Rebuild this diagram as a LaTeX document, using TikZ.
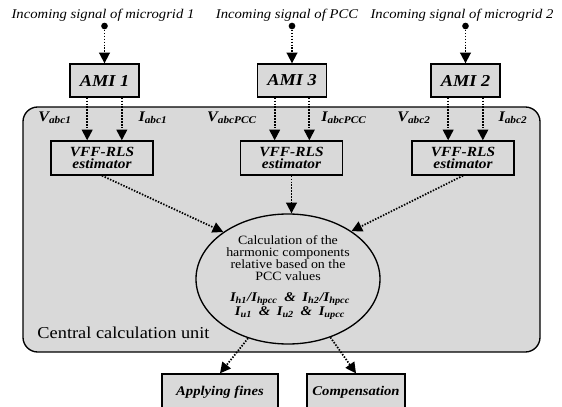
\documentclass[tikz,border=0pt]{standalone}
\usepackage{fontspec}
\setmainfont{Liberation Serif}[FakeStretch=1.1]
\usetikzlibrary{arrows.meta,shapes.geometric}

\definecolor{panelgray}{RGB}{217,217,217}
\newcommand{\qsub}[2]{#1\textsubscript{#2}}

\tikzset{every picture/.style={line width=0.75pt}}
\tikzset{
	amibox/.style={draw, fill=panelgray, line width=1pt, minimum width=51.75pt, minimum height=24.75pt, inner sep=0pt, font=\fontsize{12.5}{12}\selectfont\bfseries\itshape},
	estbox/.style={draw, fill=panelgray, line width=1pt, minimum width=76.5pt, minimum height=25.5pt, inner sep=0pt, align=center, font=\fontsize{10.5}{9.5}\selectfont\bfseries\itshape},
	outbox/.style={draw, fill=panelgray, line width=1pt, minimum height=27pt, inner sep=0pt, font=\fontsize{10}{10}\selectfont\bfseries\itshape},
	tapdot/.style={circle, fill, inner sep=0pt, minimum size=5pt},
	sigflow/.style={line width=1.3pt, dash pattern=on 1.1pt off 1.1pt, -{Triangle[length=8pt,width=8pt]}},
	meas/.style={inner sep=0pt, font=\fontsize{11}{11}\selectfont\bfseries\itshape},
	intext/.style={inner sep=0pt, font=\fontsize{10}{10}\selectfont\itshape},
}

\begin{document}
\begin{tikzpicture}[x=0.75pt,y=0.75pt,yscale=-1,xscale=1]
	\useasboundingbox (0,0) rectangle (562,407);
	\clip (0,0) rectangle (562,407);
	
	%Shape: Rounded Rect [id:unit]
	\draw [fill=panelgray, line width=1pt, rounded corners=11pt] (23,107) rectangle (540,352);
	\draw (37,333) node [anchor=west][inner sep=0pt][font=\fontsize{12.5}{12}\selectfont] (unitlabel) {Central calculation unit};
	
	%incoming signals
	\draw (103,15) node [intext] (in1) {Incoming signal of microgrid 1};
	\draw (287,15) node [intext] (inpcc) {Incoming signal of PCC};
	\draw (462,15) node [intext] (in2) {Incoming signal of microgrid 2};
	\node [tapdot] (tap1) at (104.5,26) {};
	\node [tapdot] (tappcc) at (292,26) {};
	\node [tapdot] (tap2) at (465.5,26) {};
	
	%AMI units
	\node [amibox] (ami1) at (104.5,80.5) {AMI 1};
	\node [amibox] (ami3) at (292,80.5) {AMI 3};
	\node [amibox] (ami2) at (465.5,80.5) {AMI 2};
	\draw [sigflow] (tap1) -- (ami1);
	\draw [sigflow] (tappcc) -- (ami3);
	\draw [sigflow] (tap2) -- (ami2);
	
	%estimators
	\node [estbox] (est1) at (102,158) {VFF-RLS\\estimator};
	\node [estbox] (estpcc) at (291.5,158) {VFF-RLS\\estimator};
	\node [estbox] (est2) at (463,158) {VFF-RLS\\estimator};
	\draw [sigflow] ([xshift=-13pt]ami1.south) -- ([xshift=-13pt]ami1.south |- est1.north);
	\draw [sigflow] ([xshift=13pt]ami1.south) -- ([xshift=13pt]ami1.south |- est1.north);
	\draw [sigflow] ([xshift=-13pt]ami3.south) -- ([xshift=-13pt]ami3.south |- estpcc.north);
	\draw [sigflow] ([xshift=13pt]ami3.south) -- ([xshift=13pt]ami3.south |- estpcc.north);
	\draw [sigflow] ([xshift=-13pt]ami2.south) -- ([xshift=-13pt]ami2.south |- est2.north);
	\draw [sigflow] ([xshift=13pt]ami2.south) -- ([xshift=13pt]ami2.south |- est2.north);
	
	\draw (55,118) node [meas] (v1) {\qsub{V}{abc1}};
	\draw (153,118) node [meas] (i1) {\qsub{I}{abc1}};
	\draw (232,118) node [meas] (vpcc) {\qsub{V}{abcPCC}};
	\draw (344,118) node [meas] (ipcc) {\qsub{I}{abcPCC}};
	\draw (414,118) node [meas] (v2) {\qsub{V}{abc2}};
	\draw (513,118) node [meas] (i2) {\qsub{I}{abc2}};
	
	%Shape: Ellipse [id:calc]
	\node [ellipse, draw, fill=panelgray, line width=1pt, minimum width=138pt, minimum height=97.5pt, inner sep=0pt] (calc) at (288,279) {};
	\draw (288,258) node [align=center, inner sep=0pt, font=\fontsize{9.5}{9}\selectfont] (calctext) {Calculation of the\\harmonic components\\relative based on the\\PCC values};
	\draw (290,306) node [align=center, inner sep=0pt, font=\fontsize{10}{10.5}\selectfont\bfseries\itshape] (ratios) {\qsub{I}{h1}/\qsub{I}{hpcc}\enspace \&\enspace \qsub{I}{h2}/\qsub{I}{hpcc}\\\qsub{I}{u1}\enspace \&\enspace \qsub{I}{u2}\enspace \&\enspace \qsub{I}{upcc}};
	\draw [sigflow] (est1.south) -- (calc.144);
	\draw [sigflow] (estpcc.south) -- (estpcc.south |- calc.north);
	\draw [sigflow] (est2.south) -- (calc.37);
	
	%outputs
	\node [outbox, minimum width=87pt] (fines) at (220,392) {Applying fines};
	\node [outbox, minimum width=73.5pt] (comp) at (356,392) {Compensation};
	\draw [sigflow] (calc.236) -- (fines.north);
	\draw [sigflow] (calc.306) -- (comp.north);
	
\end{tikzpicture}
\end{document}
